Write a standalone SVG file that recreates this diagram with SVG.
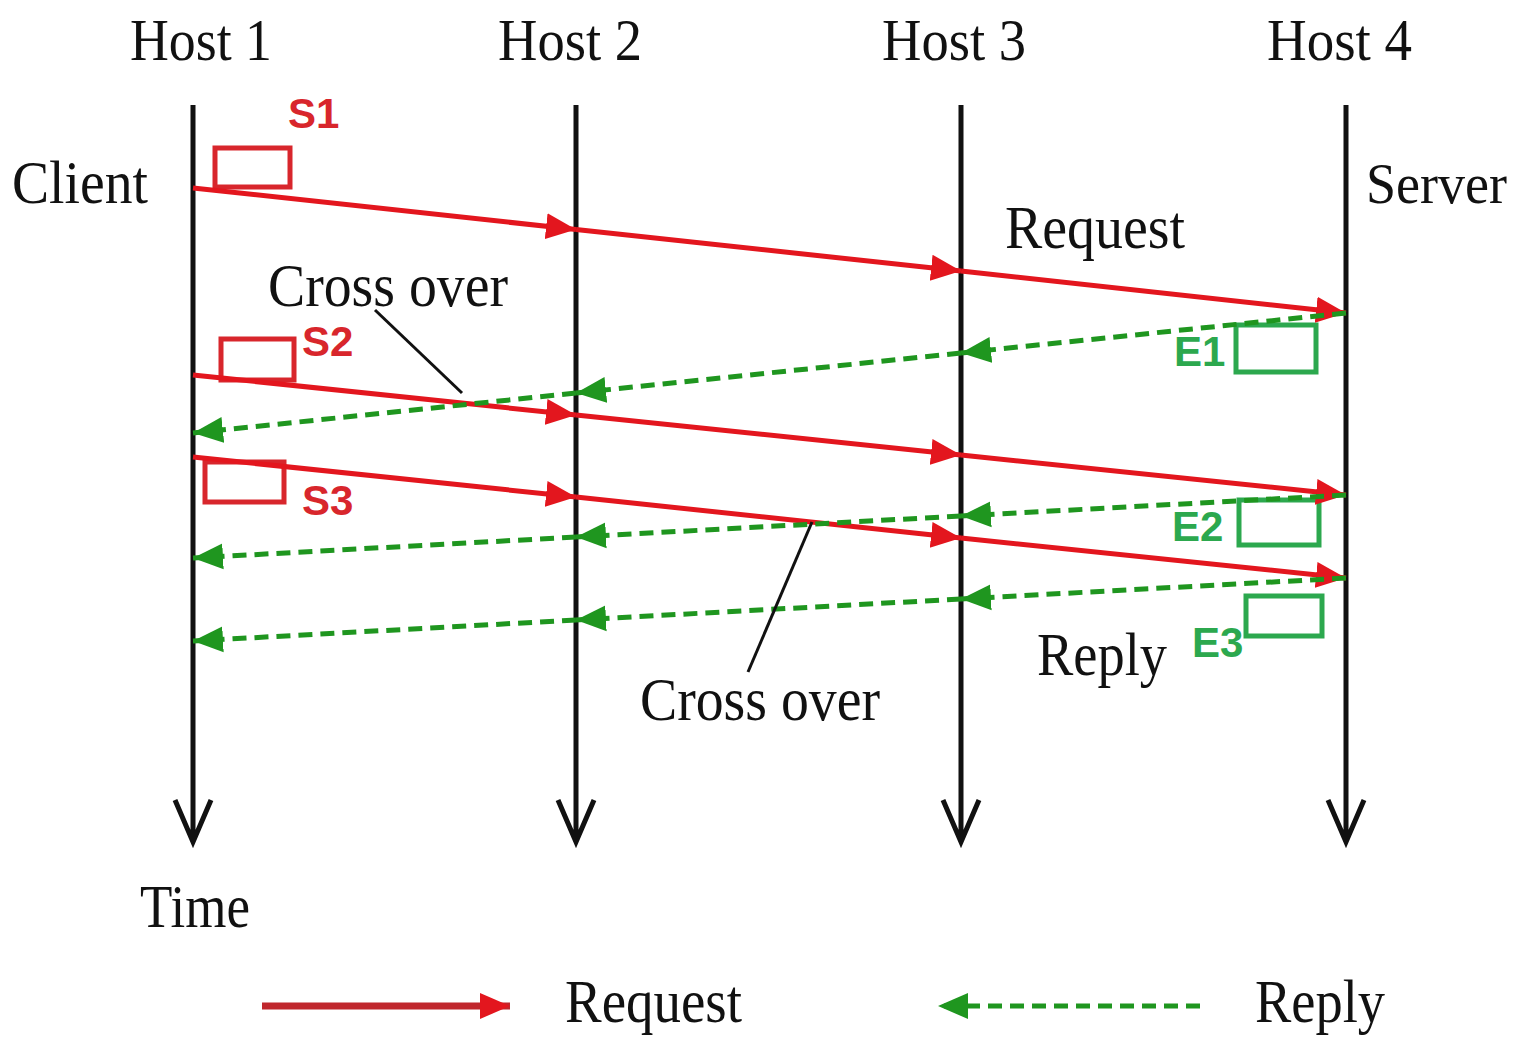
<svg xmlns="http://www.w3.org/2000/svg" width="1523" height="1041" viewBox="0 0 1523 1041">
<style>
.lbl{font-family:"Liberation Serif","Times New Roman",serif;fill:#111;}
.tag{font-family:"Liberation Sans",Arial,sans-serif;font-weight:bold;}
.tagr{fill:#d8262c;}
.tagg{fill:#2ca84e;}
.life{stroke:#111;stroke-width:5;fill:none;}
.req{stroke:#e3161e;stroke-width:5;fill:none;}
.rep{stroke:#1f961f;stroke-width:5;fill:none;stroke-dasharray:14 8;}
.boxr{fill:none;stroke:#d8262c;stroke-width:5;}
.boxg{fill:none;stroke:#2ca84e;stroke-width:5;}
.lead{stroke:#111;stroke-width:3;fill:none;}
</style>
<defs>
<marker id="ar" markerUnits="userSpaceOnUse" markerWidth="32" markerHeight="32" viewBox="0 0 32 32" refX="30" refY="16" orient="auto">
<path d="M0,3 L30,16 L0,29 z" fill="#e3161e"/>
</marker>
<marker id="ag" markerUnits="userSpaceOnUse" markerWidth="32" markerHeight="32" viewBox="0 0 32 32" refX="30" refY="16" orient="auto">
<path d="M0,3 L30,16 L0,29 z" fill="#1f961f"/>
</marker>
</defs>
<rect width="1523" height="1041" fill="#ffffff"/>

<g id="host1">
<text class="lbl" x="130" y="60" font-size="60" textLength="142" lengthAdjust="spacingAndGlyphs">Host 1</text>
<path class="life" d="M193,105 V842 M175,800 L193,842 L211,800"/>
</g>
<g id="host2">
<text class="lbl" x="498" y="60" font-size="60" textLength="144" lengthAdjust="spacingAndGlyphs">Host 2</text>
<path class="life" d="M576,105 V842 M558,800 L576,842 L594,800"/>
</g>
<g id="host3">
<text class="lbl" x="882" y="60" font-size="60" textLength="144" lengthAdjust="spacingAndGlyphs">Host 3</text>
<path class="life" d="M961,105 V842 M943,800 L961,842 L979,800"/>
</g>
<g id="host4">
<text class="lbl" x="1267" y="60" font-size="60" textLength="145" lengthAdjust="spacingAndGlyphs">Host 4</text>
<path class="life" d="M1346,105 V842 M1328,800 L1346,842 L1364,800"/>
</g>

<g id="labels">
<text class="lbl" x="12" y="203" font-size="62" textLength="136" lengthAdjust="spacingAndGlyphs">Client</text>
<text class="lbl" x="1366" y="203" font-size="58" textLength="141" lengthAdjust="spacingAndGlyphs">Server</text>
<text class="lbl" x="1005" y="248" font-size="62" textLength="180" lengthAdjust="spacingAndGlyphs">Request</text>
<text class="lbl" x="268" y="306" font-size="62" textLength="240" lengthAdjust="spacingAndGlyphs">Cross over</text>
<text class="lbl" x="640" y="720" font-size="62" textLength="240" lengthAdjust="spacingAndGlyphs">Cross over</text>
<text class="lbl" x="1037" y="675" font-size="62" textLength="130" lengthAdjust="spacingAndGlyphs">Reply</text>
<text class="lbl" x="140" y="927" font-size="62" textLength="110" lengthAdjust="spacingAndGlyphs">Time</text>
</g>

<g id="markersS">
<text class="tag tagr" x="288" y="128" font-size="42">S1</text>
<rect class="boxr" x="215" y="148" width="75" height="39"/>
<text class="tag tagr" x="302" y="356" font-size="42">S2</text>
<rect class="boxr" x="221" y="339" width="73" height="41"/>
<text class="tag tagr" x="302" y="515" font-size="42">S3</text>
<rect class="boxr" x="205" y="462" width="79" height="40"/>
</g>
<g id="markersE">
<text class="tag tagg" x="1174" y="366" font-size="42">E1</text>
<rect class="boxg" x="1236" y="325" width="80" height="47"/>
<text class="tag tagg" x="1172" y="541" font-size="42">E2</text>
<rect class="boxg" x="1239" y="500" width="80" height="45"/>
<text class="tag tagg" x="1192" y="657" font-size="42">E3</text>
<rect class="boxg" x="1246" y="596" width="76" height="40"/>
</g>

<g id="connectors">
<path class="req" d="M193,188 L576,229.5" marker-end="url(#ar)"/>
<path class="req" d="M576,229.5 L961,271" marker-end="url(#ar)"/>
<path class="req" d="M961,271 L1346,313" marker-end="url(#ar)"/>
<path class="req" d="M193,375 L576,415" marker-end="url(#ar)"/>
<path class="req" d="M576,415 L961,455" marker-end="url(#ar)"/>
<path class="req" d="M961,455 L1346,495" marker-end="url(#ar)"/>
<path class="req" d="M193,457 L576,497" marker-end="url(#ar)"/>
<path class="req" d="M576,497 L961,538" marker-end="url(#ar)"/>
<path class="req" d="M961,538 L1346,578" marker-end="url(#ar)"/>

<path class="rep" d="M1346,313 L961,353" marker-end="url(#ag)"/>
<path class="rep" d="M961,353 L576,393" marker-end="url(#ag)"/>
<path class="rep" d="M576,393 L193,433" marker-end="url(#ag)"/>
<path class="rep" d="M1346,495 L961,516" marker-end="url(#ag)"/>
<path class="rep" d="M961,516 L576,537" marker-end="url(#ag)"/>
<path class="rep" d="M576,537 L193,558" marker-end="url(#ag)"/>
<path class="rep" d="M1346,578 L961,599" marker-end="url(#ag)"/>
<path class="rep" d="M961,599 L576,620" marker-end="url(#ag)"/>
<path class="rep" d="M576,620 L193,641" marker-end="url(#ag)"/>

<path class="lead" d="M375,310 L462,393"/>
<path class="lead" d="M812,522 L748,672"/>
</g>

<g id="legend">
<path d="M262,1006 L510,1006" stroke="#c0272d" stroke-width="7" fill="none" marker-end="url(#ar)"/>
<text class="lbl" x="565" y="1022" font-size="62" textLength="177" lengthAdjust="spacingAndGlyphs">Request</text>
<path d="M1200,1006 L938,1006" class="rep" marker-end="url(#ag)"/>
<text class="lbl" x="1255" y="1022" font-size="62" textLength="130" lengthAdjust="spacingAndGlyphs">Reply</text>
</g>
</svg>
